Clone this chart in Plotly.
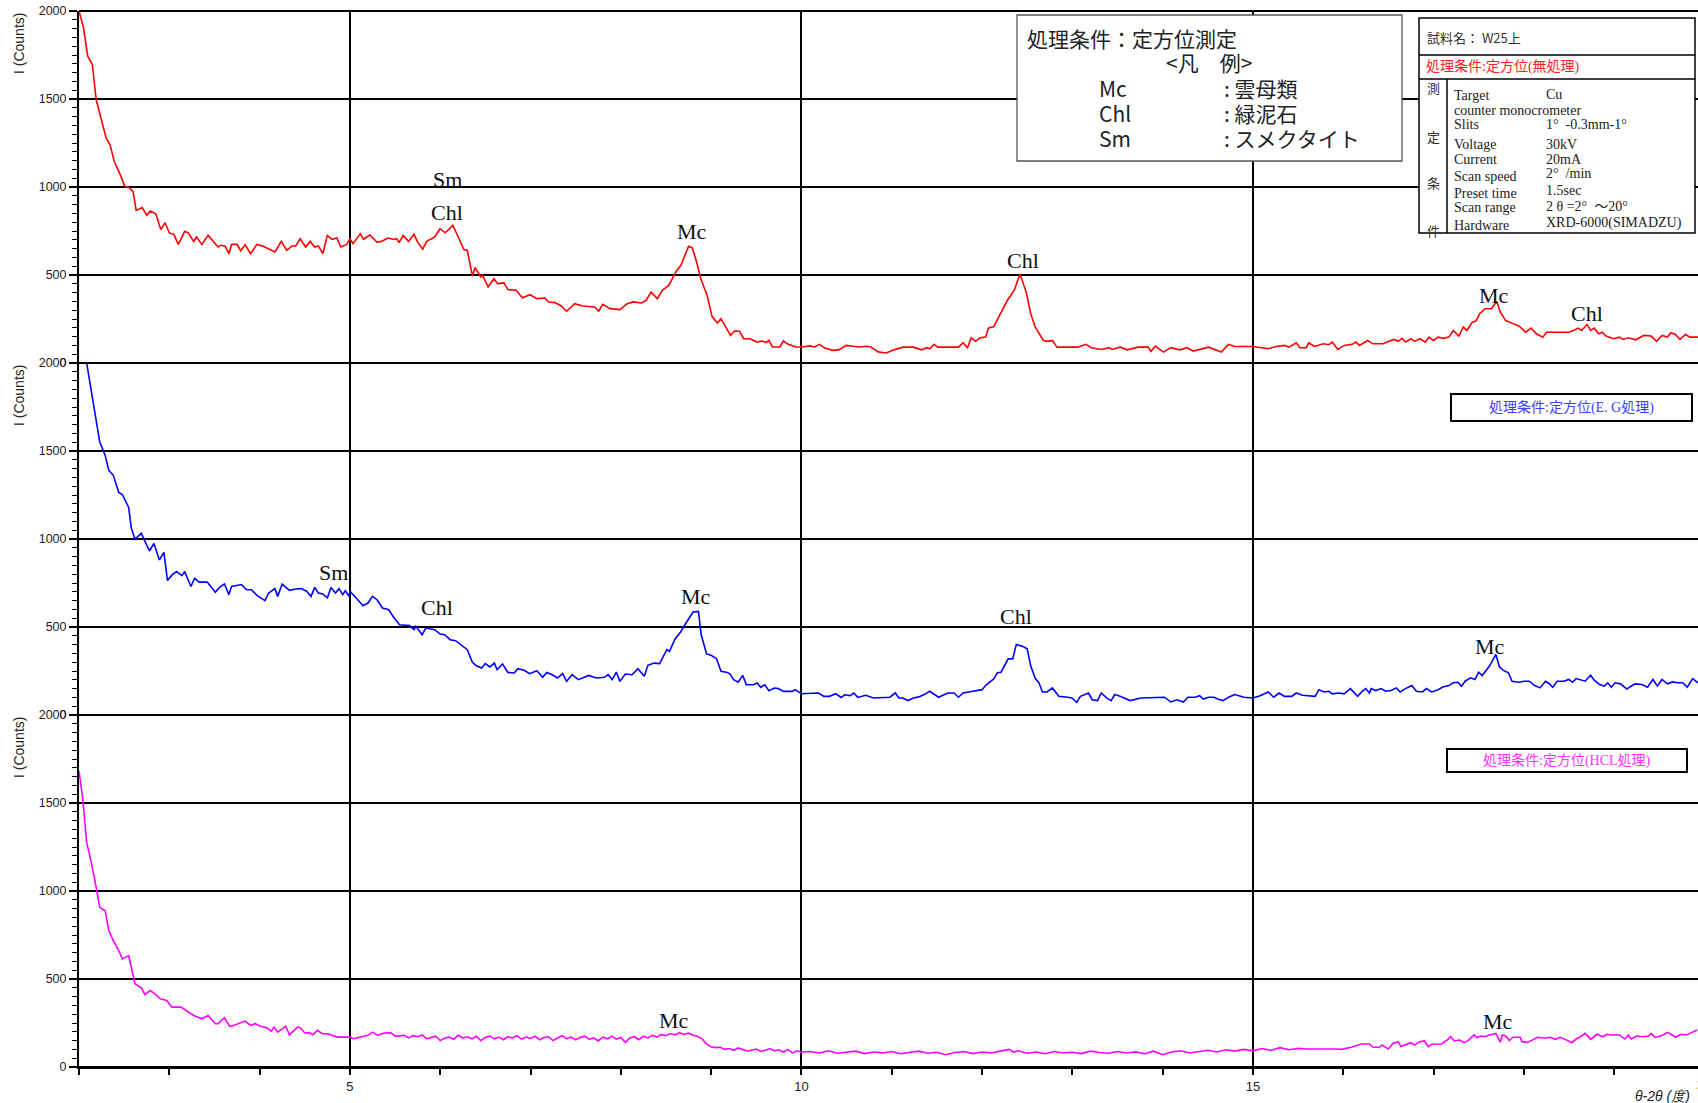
import plotly.graph_objects as go
from plotly.subplots import make_subplots

# ---------------- data (2theta, counts) ----------------
red_points = [
    (2.00, 2000), (2.05, 1905), (2.096, 1744), (2.148, 1696), (2.19, 1497), (2.244, 1383), (2.30, 1279),
    (2.343, 1241), (2.39, 1146), (2.46, 1066), (2.506, 1004), (2.558, 996), (2.60, 972), (2.633, 867),
    (2.70, 883), (2.75, 839), (2.79, 864), (2.85, 848), (2.906, 758), (2.953, 797), (3.0, 739), (3.05, 731),
    (3.10, 674), (3.17, 748), (3.21, 739), (3.27, 691), (3.30, 716), (3.36, 674), (3.43, 725), (3.54, 659),
    (3.57, 669), (3.62, 663), (3.66, 621), (3.69, 674), (3.75, 674), (3.79, 638), (3.84, 672), (3.90, 621),
    (3.97, 674), (4.04, 663), (4.17, 631), (4.24, 691), (4.30, 640), (4.36, 665), (4.40, 665), (4.45, 706),
    (4.51, 659), (4.56, 691), (4.61, 659), (4.65, 665), (4.70, 621), (4.75, 725), (4.80, 703), (4.855, 710),
    (4.90, 659), (4.965, 674), (5.0, 706), (5.035, 678), (5.116, 735), (5.15, 703), (5.22, 727), (5.30, 687),
    (5.35, 691), (5.42, 710), (5.476, 703), (5.52, 706), (5.545, 684), (5.59, 725), (5.65, 691), (5.71, 731),
    (5.75, 687), (5.806, 646), (5.85, 691), (5.94, 716), (5.998, 763), (6.055, 740), (6.14, 782), (6.20, 716),
    (6.26, 646), (6.30, 640), (6.357, 494), (6.386, 542), (6.45, 489), (6.47, 498), (6.53, 432), (6.595, 479),
    (6.635, 451), (6.705, 455), (6.75, 417), (6.84, 413), (6.91, 371), (6.995, 388), (7.07, 366), (7.16, 369),
    (7.20, 347), (7.27, 343), (7.34, 324), (7.40, 294), (7.49, 337), (7.575, 324), (7.71, 318), (7.755, 294),
    (7.80, 333), (7.88, 309), (7.99, 303), (8.07, 337), (8.14, 347), (8.23, 341), (8.28, 356), (8.335, 403),
    (8.405, 366), (8.46, 413), (8.53, 441), (8.62, 526), (8.666, 555), (8.75, 663), (8.79, 655), (8.84, 574),
    (8.886, 479), (8.956, 384), (9.01, 265), (9.07, 227), (9.11, 252), (9.215, 157), (9.26, 182), (9.315, 180),
    (9.36, 138), (9.43, 138), (9.51, 119), (9.565, 125), (9.61, 116), (9.64, 129), (9.68, 91), (9.76, 91),
    (9.80, 125), (9.855, 106), (9.94, 91), (10.01, 91), (10.09, 97), (10.145, 91), (10.20, 106), (10.26, 85),
    (10.35, 72), (10.42, 76), (10.495, 100), (10.57, 95), (10.64, 91), (10.73, 95), (10.77, 91), (10.85, 63),
    (10.94, 57), (11.01, 72), (11.13, 90), (11.24, 90), (11.33, 75), (11.39, 87), (11.42, 81), (11.47, 106),
    (11.51, 90), (11.74, 90), (11.79, 115), (11.84, 87), (11.88, 143), (11.93, 123), (11.98, 143), (12.04, 147),
    (12.07, 198), (12.13, 207), (12.20, 279), (12.28, 355), (12.36, 417), (12.42, 506), (12.49, 402), (12.54, 279),
    (12.59, 204), (12.68, 128), (12.73, 123), (12.78, 128), (12.83, 90), (13.06, 90), (13.15, 106), (13.21, 87),
    (13.32, 77), (13.41, 87), (13.44, 77), (13.53, 90), (13.61, 75), (13.73, 90), (13.84, 90), (13.87, 66),
    (13.92, 96), (14.01, 62), (14.09, 87), (14.19, 75), (14.27, 87), (14.34, 68), (14.51, 90), (14.65, 62),
    (14.73, 106), (14.80, 94), (15.0, 94), (15.09, 87), (15.17, 81), (15.26, 94), (15.35, 100), (15.40, 90),
    (15.48, 115), (15.52, 87), (15.59, 87), (15.62, 115), (15.68, 94), (15.78, 109), (15.84, 104), (15.88, 119),
    (15.94, 77), (16.01, 100), (16.10, 106), (16.14, 119), (16.18, 100), (16.27, 128), (16.33, 109), (16.44, 109),
    (16.56, 134), (16.61, 123), (16.65, 140), (16.69, 119), (16.75, 138), (16.79, 123), (16.85, 138), (16.91, 119),
    (16.95, 147), (17.00, 128), (17.05, 147), (17.11, 140), (17.17, 147), (17.22, 185), (17.28, 153), (17.33, 204),
    (17.37, 185), (17.43, 232), (17.47, 238), (17.51, 279), (17.57, 308), (17.64, 308), (17.70, 349), (17.74, 289),
    (17.80, 241), (17.86, 228), (17.95, 209), (18.02, 175), (18.08, 198), (18.14, 166), (18.21, 147), (18.25, 175),
    (18.50, 175), (18.55, 185), (18.60, 198), (18.64, 185), (18.70, 219), (18.74, 185), (18.78, 198), (18.83, 166),
    (18.87, 175), (18.91, 153), (18.99, 138), (19.06, 147), (19.10, 134), (19.16, 143), (19.24, 132), (19.33, 157),
    (19.41, 153), (19.47, 123), (19.53, 157), (19.59, 147), (19.63, 172), (19.68, 162), (19.73, 134), (19.79, 162),
    (19.84, 147), (19.93, 147),
]

blue_points = [
    (2.085, 2000), (2.13, 1853), (2.185, 1683), (2.23, 1551), (2.29, 1475), (2.33, 1390), (2.38, 1362),
    (2.44, 1264), (2.48, 1253), (2.55, 1179), (2.58, 1060), (2.62, 1000), (2.69, 1032), (2.73, 985), (2.78, 932),
    (2.83, 975), (2.89, 881), (2.94, 924), (2.98, 764), (3.03, 796), (3.08, 815), (3.14, 792), (3.17, 815),
    (3.24, 730), (3.28, 777), (3.33, 755), (3.42, 756), (3.51, 697), (3.55, 722), (3.61, 744), (3.66, 684),
    (3.69, 731), (3.80, 741), (3.855, 712), (3.91, 712), (3.97, 680), (4.06, 650), (4.10, 693), (4.17, 718),
    (4.20, 674), (4.25, 744), (4.33, 708), (4.40, 716), (4.46, 718), (4.52, 703), (4.57, 674), (4.61, 725),
    (4.65, 693), (4.70, 688), (4.75, 665), (4.79, 725), (4.84, 693), (4.88, 718), (4.92, 684), (4.95, 706),
    (4.99, 674), (5.0, 703), (5.07, 665), (5.145, 621), (5.20, 636), (5.25, 674), (5.30, 655), (5.36, 608),
    (5.43, 598), (5.49, 551), (5.55, 513), (5.66, 509), (5.71, 485), (5.73, 504), (5.80, 456), (5.84, 494),
    (5.94, 485), (6.0, 460), (6.05, 456), (6.11, 428), (6.17, 422), (6.23, 396), (6.30, 371), (6.355, 301),
    (6.40, 280), (6.46, 267), (6.50, 292), (6.55, 273), (6.60, 295), (6.63, 258), (6.69, 290), (6.75, 242),
    (6.82, 239), (6.86, 263), (6.93, 254), (6.99, 235), (7.07, 252), (7.135, 214), (7.18, 242), (7.24, 229),
    (7.30, 210), (7.355, 235), (7.40, 191), (7.46, 229), (7.53, 201), (7.645, 225), (7.73, 210), (7.82, 214),
    (7.86, 229), (7.905, 201), (7.95, 244), (7.99, 191), (8.05, 233), (8.125, 229), (8.19, 263), (8.26, 220),
    (8.30, 282), (8.37, 295), (8.43, 292), (8.51, 371), (8.54, 362), (8.60, 432), (8.66, 470), (8.715, 517),
    (8.80, 585), (8.86, 589), (8.89, 456), (8.95, 347), (9.00, 339), (9.06, 320), (9.11, 248), (9.18, 242),
    (9.21, 233), (9.25, 201), (9.30, 187), (9.35, 225), (9.39, 172), (9.47, 172), (9.51, 182), (9.55, 157),
    (9.595, 172), (9.64, 138), (9.70, 153), (9.745, 150), (9.80, 134), (9.90, 134), (9.93, 144), (10.0, 121),
    (10.19, 125), (10.25, 106), (10.31, 106), (10.38, 121), (10.44, 100), (10.48, 115), (10.54, 110), (10.58, 125),
    (10.625, 100), (10.71, 112), (10.80, 97), (10.98, 101), (11.04, 125), (11.08, 97), (11.12, 97), (11.18, 82),
    (11.24, 97), (11.30, 103), (11.36, 116), (11.42, 135), (11.45, 125), (11.52, 101), (11.62, 125), (11.69, 125),
    (11.74, 101), (11.79, 125), (11.85, 131), (11.91, 135), (11.97, 139), (12.00, 144), (12.05, 173), (12.13, 205),
    (12.17, 240), (12.21, 243), (12.29, 319), (12.34, 319), (12.38, 401), (12.46, 388), (12.50, 376), (12.54, 278),
    (12.59, 207), (12.63, 183), (12.67, 131), (12.72, 131), (12.78, 154), (12.85, 106), (12.95, 101), (12.995, 97),
    (13.05, 72), (13.09, 106), (13.18, 125), (13.22, 87), (13.28, 82), (13.32, 125), (13.38, 97), (13.43, 82),
    (13.47, 116), (13.53, 106), (13.64, 82), (13.76, 97), (14.02, 101), (14.09, 74), (14.16, 86), (14.23, 74),
    (14.28, 101), (14.36, 101), (14.41, 110), (14.45, 91), (14.51, 101), (14.57, 101), (14.61, 91), (14.67, 82),
    (14.73, 101), (14.80, 116), (14.90, 101), (15.0, 97), (15.08, 110), (15.17, 131), (15.23, 101), (15.29, 125),
    (15.35, 106), (15.43, 106), (15.48, 125), (15.55, 112), (15.69, 106), (15.73, 144), (15.79, 131), (15.84, 135),
    (15.88, 120), (15.95, 125), (16.01, 120), (16.08, 150), (16.16, 106), (16.21, 135), (16.25, 150), (16.29, 125),
    (16.31, 150), (16.36, 139), (16.42, 150), (16.47, 135), (16.53, 139), (16.59, 154), (16.63, 131), (16.69, 150),
    (16.76, 167), (16.81, 135), (16.88, 131), (16.92, 150), (16.98, 131), (17.05, 144), (17.11, 160), (17.17, 167),
    (17.22, 183), (17.27, 186), (17.31, 164), (17.35, 192), (17.41, 211), (17.46, 202), (17.50, 243), (17.54, 224),
    (17.62, 278), (17.69, 344), (17.73, 274), (17.77, 255), (17.83, 240), (17.87, 192), (17.95, 186), (18.00, 192),
    (18.06, 192), (18.12, 167), (18.18, 154), (18.24, 192), (18.28, 179), (18.32, 158), (18.37, 192), (18.44, 192),
    (18.50, 202), (18.54, 186), (18.58, 207), (18.64, 198), (18.68, 192), (18.74, 226), (18.78, 198), (18.84, 173),
    (18.89, 164), (18.93, 183), (18.97, 158), (19.01, 183), (19.07, 177), (19.14, 148), (19.19, 164), (19.23, 177),
    (19.31, 173), (19.37, 158), (19.43, 202), (19.48, 164), (19.53, 202), (19.59, 177), (19.65, 188), (19.70, 183),
    (19.76, 183), (19.81, 158), (19.87, 207), (19.93, 183),
]

pink_points = [
    (2.0, 1682), (2.04, 1531), (2.085, 1276), (2.14, 1153), (2.19, 1021), (2.23, 907), (2.29, 888), (2.33, 775),
    (2.38, 718), (2.44, 662), (2.48, 614), (2.55, 633), (2.62, 473), (2.69, 450), (2.73, 412), (2.79, 435),
    (2.84, 416), (2.90, 387), (2.97, 378), (3.03, 340), (3.13, 340), (3.21, 312), (3.27, 293), (3.36, 274),
    (3.43, 293), (3.51, 246), (3.54, 246), (3.61, 280), (3.67, 231), (3.71, 236), (3.84, 261), (3.90, 236),
    (3.95, 246), (4.01, 231), (4.08, 223), (4.13, 204), (4.16, 227), (4.20, 198), (4.24, 212), (4.29, 232),
    (4.33, 183), (4.38, 208), (4.42, 227), (4.45, 223), (4.50, 193), (4.55, 195), (4.59, 183), (4.64, 208),
    (4.695, 189), (4.75, 189), (4.86, 170), (5.0, 170), (5.04, 161), (5.12, 170), (5.20, 180), (5.25, 198),
    (5.31, 180), (5.38, 193), (5.45, 195), (5.505, 174), (5.57, 180),
    (5.6, 180), (5.65, 165), (5.7, 178), (5.75, 172), (5.8, 182), (5.85, 160), (5.9, 168), (5.95, 175),
    (6.0, 150), (6.05, 165), (6.1, 170), (6.15, 158), (6.2, 180), (6.25, 165), (6.3, 172), (6.35, 160),
    (6.4, 175), (6.45, 150), (6.5, 168), (6.55, 176), (6.6, 160), (6.65, 170), (6.7, 155), (6.75, 172),
    (6.8, 165), (6.85, 178), (6.9, 158), (6.95, 170), (7.0, 162), (7.05, 175), (7.1, 155), (7.15, 168),
    (7.2, 172), (7.25, 150), (7.3, 165), (7.35, 178), (7.4, 160), (7.45, 170), (7.5, 155), (7.55, 168),
    (7.6, 175), (7.65, 158), (7.7, 165), (7.75, 148), (7.8, 170), (7.85, 160), (7.9, 175), (7.95, 158),
    (8.0, 168), (8.05, 140), (8.1, 165), (8.15, 172), (8.2, 155), (8.25, 175), (8.3, 165), (8.35, 180),
    (8.4, 170), (8.45, 185), (8.5, 178), (8.55, 190), (8.6, 182), (8.65, 195), (8.7, 185), (8.75, 192),
    (8.8, 180), (8.85, 175), (8.9, 160), (8.95, 130), (9.0, 115), (9.05, 110), (9.1, 112), (9.15, 100),
    (9.2, 105), (9.25, 95), (9.3, 108), (9.35, 98), (9.4, 90), (9.5, 102), (9.55, 88), (9.6, 95),
    (9.65, 105), (9.7, 92), (9.75, 98), (9.8, 85), (9.85, 100), (9.9, 80), (9.95, 92), (10.0, 85),
    (10.1, 88), (10.2, 80), (10.3, 92), (10.4, 78), (10.5, 85), (10.6, 90), (10.7, 76), (10.8, 85),
    (10.9, 80), (11.0, 88), (11.1, 75), (11.2, 82), (11.3, 90), (11.4, 78), (11.5, 84), (11.6, 70),
    (11.7, 82), (11.8, 88), (11.9, 76), (12.0, 85), (12.1, 80), (12.2, 90), (12.3, 100), (12.35, 85),
    (12.4, 92), (12.5, 78), (12.6, 85), (12.7, 75), (12.8, 88), (12.9, 80), (13.0, 84), (13.1, 76),
    (13.2, 90), (13.3, 82), (13.4, 78), (13.5, 88), (13.6, 80), (13.7, 86), (13.8, 75), (13.9, 90),
    (14.0, 70), (14.1, 85), (14.2, 92), (14.3, 80), (14.4, 88), (14.5, 95), (14.6, 85), (14.7, 98),
    (14.8, 90), (14.9, 100), (15.0, 92), (15.1, 105), (15.2, 95), (15.3, 110), (15.4, 98), (15.5, 106),
    (15.61, 102), (15.72, 102), (15.83, 106), (15.91, 102), (15.98, 100), (16.09, 112), (16.20, 131), (16.29, 131),
    (16.33, 112), (16.40, 112), (16.43, 125), (16.46, 116), (16.50, 102), (16.55, 134), (16.61, 144), (16.64, 116),
    (16.70, 129), (16.75, 138), (16.79, 125), (16.85, 144), (16.90, 148), (16.94, 116), (16.98, 129), (17.09, 131),
    (17.16, 157), (17.19, 172), (17.23, 148), (17.29, 153), (17.34, 138), (17.38, 148), (17.45, 182), (17.48, 167),
    (17.53, 176), (17.57, 172), (17.62, 182), (17.69, 191), (17.74, 140), (17.76, 182), (17.80, 176), (17.84, 150),
    (17.88, 169), (17.96, 169), (17.98, 144), (18.04, 140), (18.11, 157), (18.15, 169), (18.23, 163), (18.29, 169),
    (18.35, 157), (18.40, 169), (18.46, 157), (18.53, 138), (18.59, 163), (18.62, 169), (18.68, 191), (18.74, 157),
    (18.81, 186), (18.88, 172), (18.92, 186), (18.97, 182), (19.06, 182), (19.12, 159), (19.16, 182), (19.19, 159),
    (19.25, 176), (19.32, 172), (19.38, 176), (19.41, 191), (19.45, 169), (19.49, 172), (19.54, 182), (19.59, 197),
    (19.63, 186), (19.68, 169), (19.74, 186), (19.80, 182), (19.84, 191), (19.92, 210),
]

# peak labels: (text, 2theta, counts)
red_labels = [("Sm", 6.08, 1040), ("Chl", 6.07, 855), ("Mc", 8.79, 750), ("Chl", 12.45, 582),
              ("Mc", 17.67, 385), ("Chl", 18.70, 284)]
blue_labels = [("Sm", 4.82, 808), ("Chl", 5.97, 612), ("Mc", 8.83, 675), ("Chl", 12.38, 557),
               ("Mc", 17.63, 392)]
pink_labels = [("Mc", 8.59, 262), ("Mc", 17.71, 258)]

y_ticks = [0, 500, 1000, 1500, 2000]
x_ticks = [5, 10, 15]
x_minor_ticks = list(range(2, 21))

legend_rows = [("Mc", ": 雲母類"), ("Chl", ": 緑泥石"), ("Sm", ": スメクタイト")]
cond_labels = ["Target", "counter monocrometer", "Slits", "Voltage", "Current", "Scan speed",
               "Preset time", "Scan range", "Hardware"]
cond_values = ["Cu", "", "1°  -0.3mm-1°", "30kV", "20mA", "2°  /min", "1.5sec", "2 θ =2°  ～20°",
               "XRD-6000(SIMADZU)"]

# ---------------- layout geometry ----------------
W, H = 1698, 1103
L, T, B = 79, 11, 36
PW = W - L
PH = H - T - B
PX_PER_DEG = 90.3
X_MAX = 2 + PW / PX_PER_DEG


def fx(xp):
    return (xp - L) / PW


def fy(yp):
    return (H - B - yp) / PH


SANS = "Liberation Sans, Arial, sans-serif"
SERIF = "Liberation Serif, Noto Sans CJK JP, serif"
JP = "Noto Sans CJK JP, sans-serif"


def note(xp, yp, text, size, family, color="#222", xanchor="left", angle=0):
    return dict(x=fx(xp), y=fy(yp), xref="paper", yref="paper", text=text, showarrow=False,
                xanchor=xanchor, yanchor="middle", textangle=angle,
                font=dict(family=family, size=size, color=color))


fig = make_subplots(rows=3, cols=1, shared_xaxes=True, vertical_spacing=0)

series = [(red_points, "#ff0000"), (blue_points, "#0000ff"), (pink_points, "#ff00ff")]
for i, (pts, color) in enumerate(series):
    fig.add_trace(go.Scatter(x=[p[0] for p in pts], y=[p[1] for p in pts], mode="lines",
                             line=dict(color=color, width=1.6), hoverinfo="skip", showlegend=False),
                  row=i + 1, col=1)

for r in (1, 2, 3):
    fig.update_yaxes(row=r, col=1, range=[0, 2000], tickvals=y_ticks, ticktext=[str(v) for v in y_ticks],
                     ticks="outside", ticklen=8, tickwidth=1.5, tickcolor="black",
                     showgrid=True, gridcolor="black", gridwidth=2,
                     showline=True, linecolor="black", linewidth=2, zeroline=False,
                     tickfont=dict(family=SANS, size=12.5, color="#222"),
                     minor=dict(dtick=50, tick0=0, ticks="outside", ticklen=5, tickwidth=1.3,
                                tickcolor="black", showgrid=False))
    fig.update_xaxes(row=r, col=1, range=[2, X_MAX], tickvals=x_ticks, ticktext=[str(v) for v in x_ticks],
                     showgrid=True, gridcolor="black", gridwidth=1.6, zeroline=False)

fig.update_xaxes(row=1, col=1, ticks="", showticklabels=False)
fig.update_xaxes(row=2, col=1, ticks="", showticklabels=False)
fig.update_xaxes(row=3, col=1, ticks="outside", ticklen=6, tickwidth=1.5, tickcolor="black",
                 showticklabels=True, showline=True, linecolor="black", linewidth=2,
                 tickfont=dict(family=SANS, size=13, color="#222"),
                 minor=dict(tickvals=x_minor_ticks, ticks="outside", ticklen=6, tickwidth=1.5,
                            tickcolor="black", showgrid=False))

shapes = []
for yy in (0, 1 / 3, 2 / 3, 1):
    shapes.append(dict(type="line", xref="paper", yref="paper", x0=0, x1=1, y0=yy, y1=yy,
                       line=dict(color="black", width=2)))

annotations = []

# peak labels
for lbls, yref in ((red_labels, "y"), (blue_labels, "y2"), (pink_labels, "y3")):
    for txt, xv, yv in lbls:
        annotations.append(dict(x=xv, y=yv, xref="x", yref=yref, text=txt, showarrow=False,
                                xanchor="center", yanchor="middle",
                                font=dict(family="Liberation Serif, serif", size=22, color="#111")))

# y axis titles
for top in (11, 363, 715):
    annotations.append(note(19, top + 33, "I (Counts)", 14, SANS, xanchor="center", angle=-90))

# x axis title and cut-off "20"
annotations.append(note(1662, 1096, "<i>θ-2θ (度)</i>", 14, SANS, xanchor="center"))
annotations.append(note(1704, 1084, "20", 13, SANS, xanchor="center"))

# legend box
shapes.append(dict(type="rect", xref="paper", yref="paper", x0=fx(1017), x1=fx(1402), y0=fy(15), y1=fy(161),
                   fillcolor="white", line=dict(color="#555", width=1.3), layer="above"))
annotations.append(note(1025, 38, "処理条件：定方位測定", 21, JP))
annotations.append(note(1209, 62, "<凡　例>", 21, JP, xanchor="center"))
for k, (abbr, name) in enumerate(legend_rows):
    yy = 88 + 25 * k
    annotations.append(note(1097, yy, abbr, 21, JP))
    annotations.append(note(1222, yy, name, 21, JP))

# info table
shapes.append(dict(type="rect", xref="paper", yref="paper", x0=fx(1419), x1=fx(1695), y0=fy(18), y1=fy(233),
                   fillcolor="white", line=dict(color="black", width=1.5), layer="above"))
for yy in (55, 79):
    shapes.append(dict(type="line", xref="paper", yref="paper", x0=fx(1419), x1=fx(1695), y0=fy(yy), y1=fy(yy),
                       line=dict(color="black", width=1.5), layer="above"))
shapes.append(dict(type="line", xref="paper", yref="paper", x0=fx(1447), x1=fx(1447), y0=fy(79), y1=fy(233),
                   line=dict(color="black", width=1.5), layer="above"))
annotations.append(note(1425, 37, "試料名： W25上", 13, JP, color="#333"))
annotations.append(note(1424, 67, "処理条件:定方位(無処理)", 14, SERIF, color="#ff2020"))
for ch, yy in zip("測定条件", (88, 136, 183, 230)):
    annotations.append(note(1433, yy, ch, 13, JP, color="#333", xanchor="center"))
label_y = [96, 110, 124, 144, 159, 176, 193, 208, 225]
value_y = [94, 110, 124, 144, 159, 174, 191, 207, 223]
for lab, val, ly, vy in zip(cond_labels, cond_values, label_y, value_y):
    annotations.append(note(1452, ly, lab, 14, SERIF))
    if val:
        annotations.append(note(1544, vy, val, 14, SERIF))

# condition boxes for lower panels
for (x0, y0, x1, y1, txt, col) in ((1451, 394, 1692, 421, "処理条件:定方位(E. G処理)", "#3d3dff"),
                                   (1447, 749, 1687, 772, "処理条件:定方位(HCL処理)", "#ff33ff")):
    shapes.append(dict(type="rect", xref="paper", yref="paper", x0=fx(x0), x1=fx(x1), y0=fy(y0), y1=fy(y1),
                       fillcolor="white", line=dict(color="black", width=2), layer="above"))
    annotations.append(note((x0 + x1) / 2, (y0 + y1) / 2, txt, 14, SERIF, color=col, xanchor="center"))

fig.update_layout(width=W, height=H, margin=dict(l=L, r=0, t=T, b=B, pad=0),
                  plot_bgcolor="white", paper_bgcolor="white", showlegend=False,
                  shapes=shapes, annotations=annotations)

fig.write_html("out.html", config={"displayModeBar": False},
               post_script="document.body.style.margin='0px';document.body.style.padding='0px';"
                           "document.documentElement.style.overflow='hidden';")
